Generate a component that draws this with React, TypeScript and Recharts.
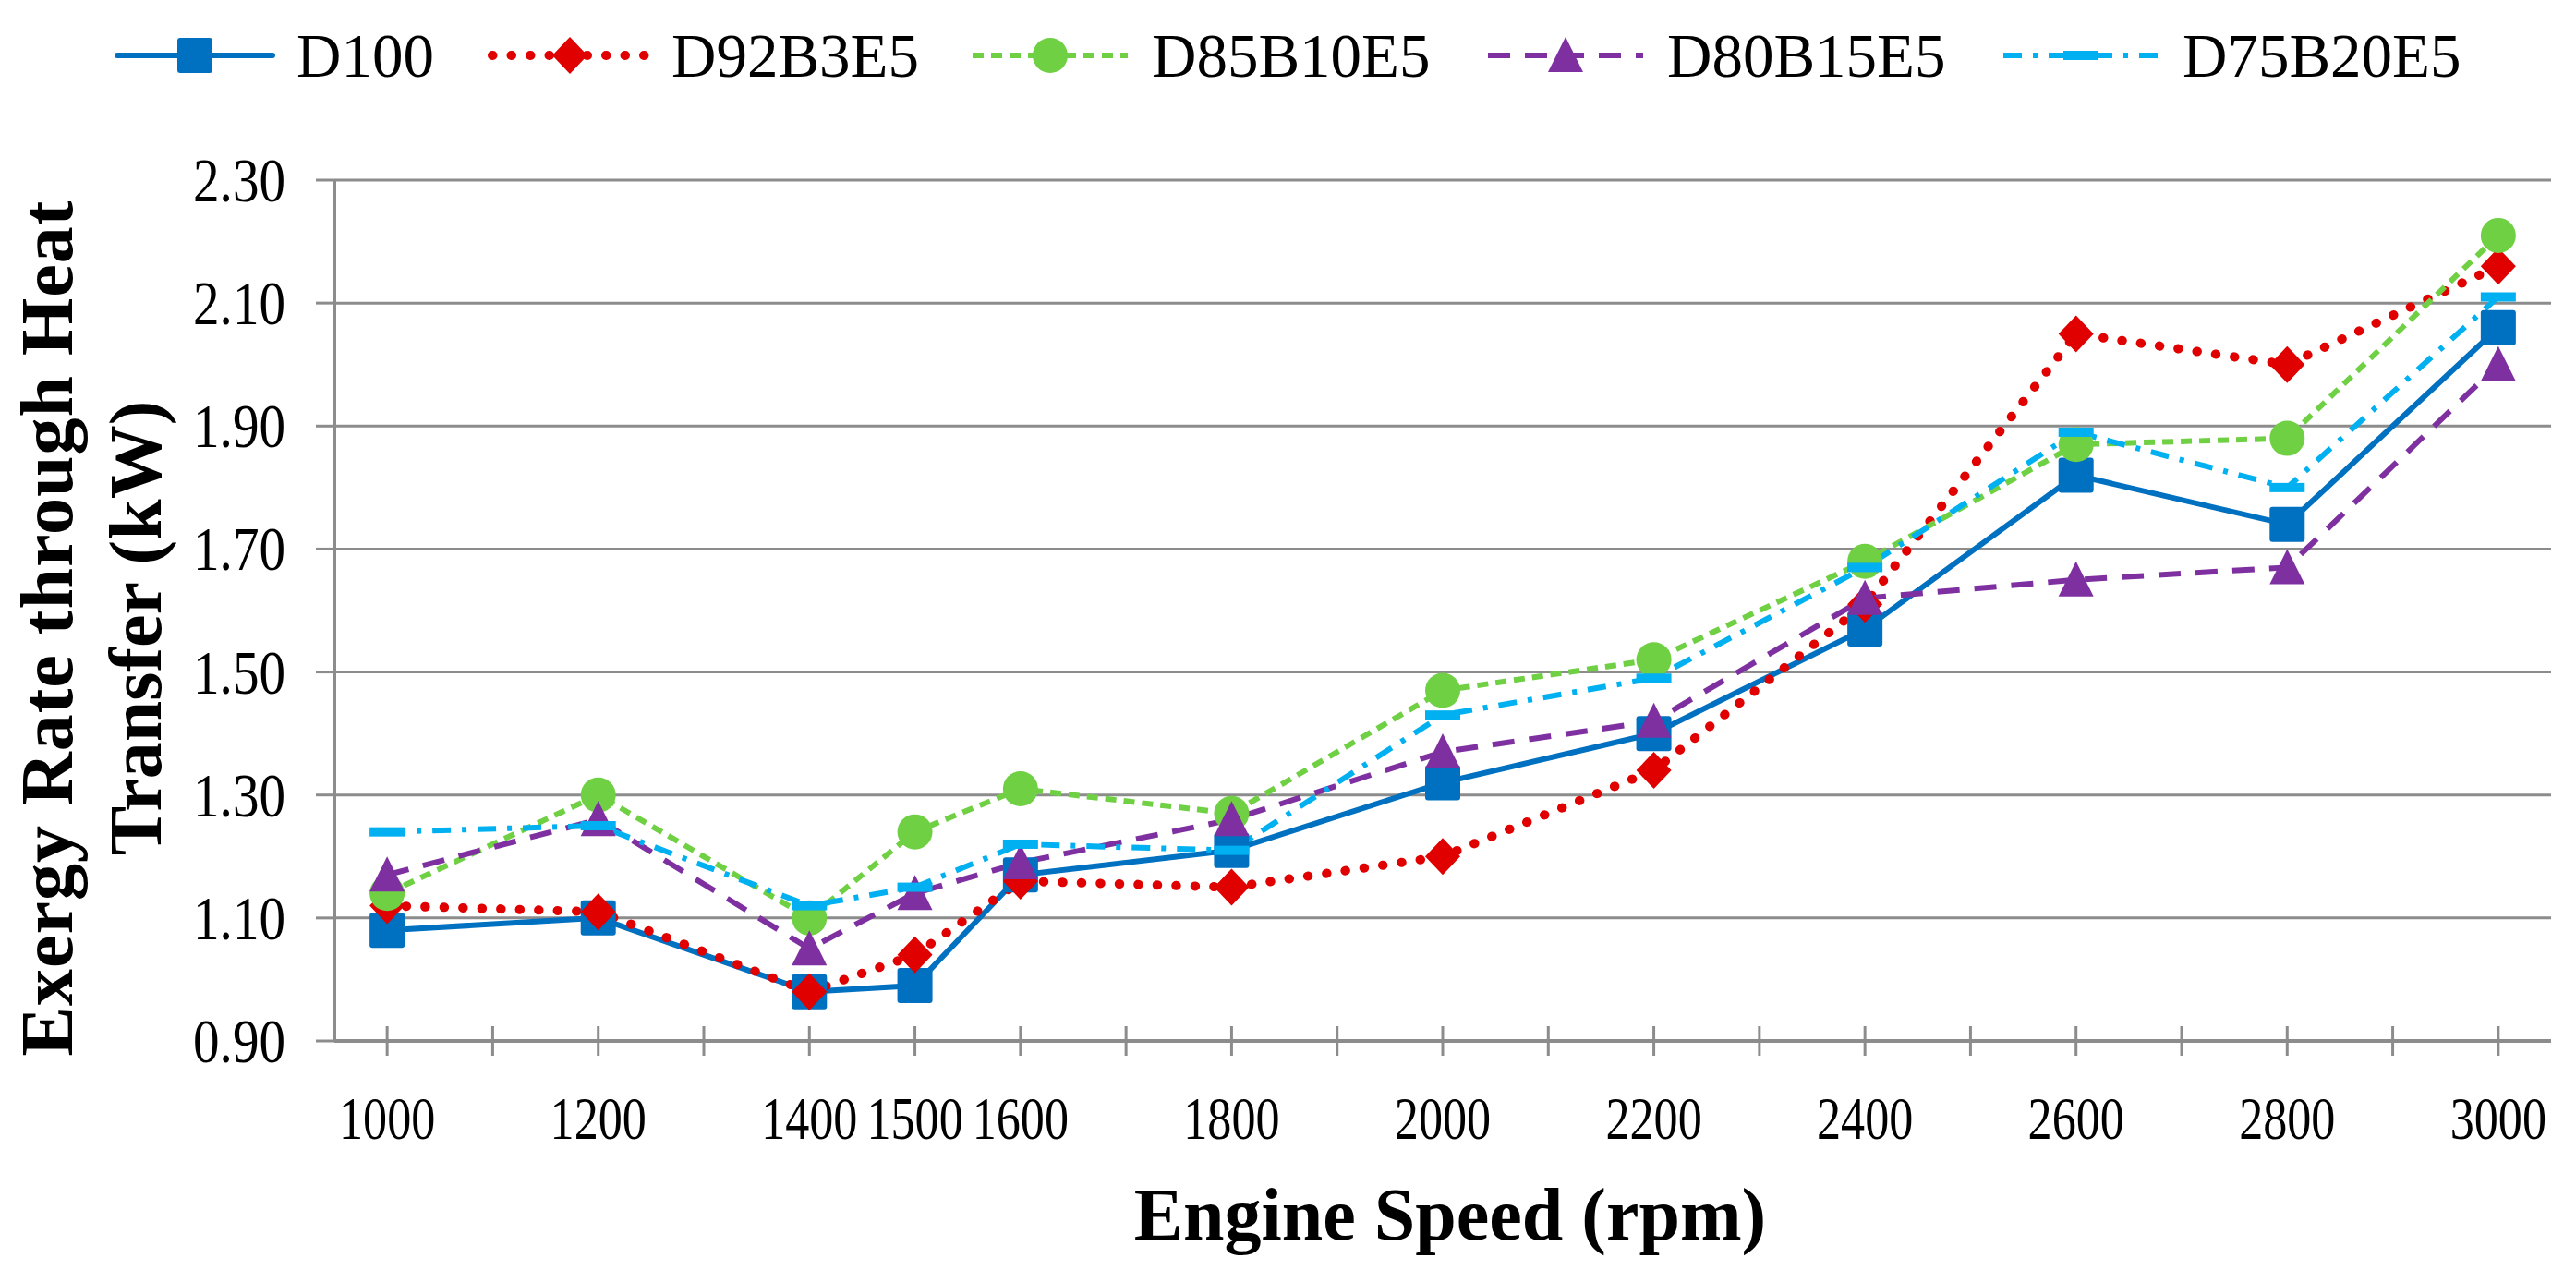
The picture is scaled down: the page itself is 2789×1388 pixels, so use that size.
import React from "react";
import { LineChart, Line, XAxis, YAxis, CartesianGrid, Legend, Label } from "recharts";

// Engine speed (rpm) at which values were measured
const speeds = [1000, 1200, 1400, 1500, 1600, 1800, 2000, 2200, 2400, 2600, 2800, 3000];
// minor ticks every 100 rpm along the axis
const speedTicks = [
  1000, 1100, 1200, 1300, 1400, 1500, 1600, 1700, 1800, 1900, 2000,
  2100, 2200, 2300, 2400, 2500, 2600, 2700, 2800, 2900, 3000,
];
const exergyTicks = [0.9, 1.1, 1.3, 1.5, 1.7, 1.9, 2.1, 2.3];

// Exergy rate through heat transfer (kW)
const d100 = [1.08, 1.1, 0.98, 0.99, 1.17, 1.21, 1.32, 1.4, 1.57, 1.82, 1.74, 2.06];
const d92b3e5 = [1.12, 1.11, 0.98, 1.04, 1.16, 1.15, 1.2, 1.34, 1.61, 2.05, 2.0, 2.16];
const d85b10e5 = [1.14, 1.3, 1.1, 1.24, 1.31, 1.27, 1.47, 1.52, 1.68, 1.87, 1.88, 2.21];
const d80b15e5 = [1.17, 1.26, 1.05, 1.14, 1.19, 1.26, 1.37, 1.42, 1.62, 1.65, 1.67, 2.0];
const d75b20e5 = [1.24, 1.25, 1.12, 1.15, 1.22, 1.21, 1.43, 1.49, 1.67, 1.89, 1.8, 2.11];

const seriesNames = ["D100", "D92B3E5", "D85B10E5", "D80B15E5", "D75B20E5"];
const seriesValues = [d100, d92b3e5, d85b10e5, d80b15e5, d75b20e5];

const FONT = "Liberation Serif";
const GRID = "#8c8c8c";

type Shape = "square" | "diamond" | "circle" | "triangle" | "dash";

const styles: { color: string; width: number; dash?: string; cap: "butt" | "round"; shape: Shape }[] = [
  { color: "#0070c0", width: 6, cap: "round", shape: "square" },
  { color: "#e00000", width: 10, dash: "0.5 20", cap: "round", shape: "diamond" },
  { color: "#70d044", width: 6, dash: "12 8", cap: "butt", shape: "circle" },
  { color: "#7f30a0", width: 6, dash: "24 16", cap: "butt", shape: "triangle" },
  { color: "#00b0f0", width: 6, dash: "20 12 5 12", cap: "butt", shape: "dash" },
];

const rows = speeds.map((rpm, i) => {
  const row: Record<string, number> = { rpm };
  seriesNames.forEach((name, s) => {
    row[name] = seriesValues[s][i];
  });
  return row;
});

function Marker({ shape, cx, cy, color }: { shape: Shape; cx: number; cy: number; color: string }) {
  switch (shape) {
    case "square":
      return <rect x={cx - 19} y={cy - 19} width={38} height={38} rx={3} fill={color} />;
    case "diamond":
      return <polygon points={`${cx},${cy - 20} ${cx + 19},${cy} ${cx},${cy + 20} ${cx - 19},${cy}`} fill={color} />;
    case "circle":
      return <circle cx={cx} cy={cy} r={19} fill={color} />;
    case "triangle":
      return <polygon points={`${cx},${cy - 20} ${cx + 19},${cy + 18} ${cx - 19},${cy + 18}`} fill={color} />;
    default:
      return <rect x={cx - 19} y={cy - 5} width={38} height={10} fill={color} />;
  }
}

const makeDot = (s: number) => (props: any) => {
  const { cx, cy, index } = props;
  if (cx == null || cy == null) return <g key={`dot-${s}-${index}`} />;
  return (
    <g key={`dot-${s}-${index}`}>
      <Marker shape={styles[s].shape} cx={cx} cy={cy} color={styles[s].color} />
    </g>
  );
};

function SpeedTick(props: any) {
  const { x, y, payload } = props;
  const v = payload.value;
  return (
    <g>
      <line x1={x} x2={x} y1={y - 16} y2={y + 16} stroke={GRID} strokeWidth={3} />
      {speeds.includes(v) && (
        <text
          transform={`translate(${x},${y + 106}) scale(0.79,1)`}
          textAnchor="middle"
          fontSize={66}
          fontFamily={FONT}
          fill="#000"
        >
          {v}
        </text>
      )}
    </g>
  );
}

function ExergyTick(props: any) {
  const { x, y, payload } = props;
  return (
    <text
      transform={`translate(${x},${y + 23}) scale(0.84,1)`}
      textAnchor="end"
      fontSize={68}
      fontFamily={FONT}
      fill="#000"
    >
      {Number(payload.value).toFixed(2)}
    </text>
  );
}

function LegendBox() {
  return (
    <div
      style={{
        height: 120,
        display: "flex",
        alignItems: "center",
        justifyContent: "center",
        gap: 56,
      }}
    >
      {seriesNames.map((name, s) => (
        <svg key={name} width={176 + 22 + name.length * 38} height={80} style={{ overflow: "visible" }}>
          <line
            x1={4}
            x2={172}
            y1={40}
            y2={40}
            stroke={styles[s].color}
            strokeWidth={styles[s].width}
            strokeDasharray={styles[s].dash}
            strokeLinecap={styles[s].cap}
          />
          <Marker shape={styles[s].shape} cx={88} cy={40} color={styles[s].color} />
          <text x={198} y={63} fontFamily={FONT} fontSize={67} fill="#000">
            {name}
          </text>
        </svg>
      ))}
    </div>
  );
}

function YTitle(props: any) {
  const { viewBox } = props;
  const cy = viewBox.y + viewBox.height / 2 + 19;
  const common = {
    fontFamily: FONT,
    fontSize: 80,
    fontWeight: "bold" as const,
    textAnchor: "middle" as const,
    fill: "#000",
  };
  return (
    <g>
      <text {...common} letterSpacing={1} transform={`translate(${viewBox.x + 78},${cy}) rotate(-90)`}>
        Exergy Rate through Heat
      </text>
      <text {...common} transform={`translate(${viewBox.x + 174},${cy}) rotate(-90)`}>
        Transfer (kW)
      </text>
    </g>
  );
}

function XTitle(props: any) {
  const { viewBox } = props;
  return (
    <text
      x={viewBox.x + viewBox.width / 2 + 8}
      y={viewBox.y + 215}
      fontFamily={FONT}
      fontSize={80}
      fontWeight="bold"
      textAnchor="middle"
      fill="#000"
    >
      Engine Speed (rpm)
    </text>
  );
}

export default function App() {
  return (
    <div style={{ width: 2789, height: 1388, background: "#fff", fontFamily: FONT }}>
      <style>{`body{margin:0;background:#fff}`}</style>
      <LineChart width={2789} height={1388} data={rows} margin={{ top: 75, right: 27, bottom: 0, left: 0 }}>
        <CartesianGrid vertical={false} stroke={GRID} strokeWidth={3} />
        <XAxis
          dataKey="rpm"
          type="number"
          domain={[950, 3050]}
          ticks={speedTicks}
          interval={0}
          height={261}
          tickLine={false}
          tickSize={0}
          tickMargin={0}
          axisLine={{ stroke: GRID, strokeWidth: 4 }}
          tick={<SpeedTick />}
        >
          <Label content={<XTitle />} />
        </XAxis>
        <YAxis
          type="number"
          domain={[0.9, 2.3]}
          ticks={exergyTicks}
          interval={0}
          width={362}
          tickSize={20}
          tickMargin={33}
          tickLine={{ stroke: GRID, strokeWidth: 3 }}
          axisLine={{ stroke: GRID, strokeWidth: 4 }}
          tick={<ExergyTick />}
        >
          <Label content={<YTitle />} />
        </YAxis>
        <Legend
          verticalAlign="top"
          content={<LegendBox />}
          wrapperStyle={{ top: 0, left: 0, width: 2789, height: 120 }}
        />
        {seriesNames.map((name, s) => (
          <Line
            key={name}
            type="linear"
            dataKey={name}
            stroke={styles[s].color}
            strokeWidth={styles[s].width}
            strokeDasharray={styles[s].dash}
            strokeLinecap={styles[s].cap}
            dot={makeDot(s)}
            activeDot={false}
            isAnimationActive={false}
          />
        ))}
      </LineChart>
    </div>
  );
}
